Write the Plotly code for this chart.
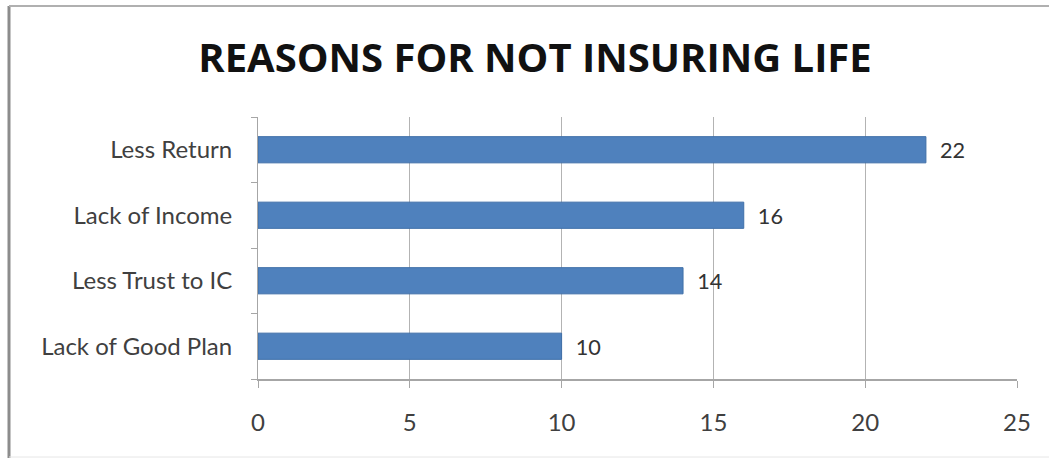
import plotly.graph_objects as go

categories = ["Lack of Good Plan", "Less Trust to IC", "Lack of Income", "Less Return"]
values = [10, 14, 16, 22]
x_ticks = [0, 5, 10, 15, 20, 25]

W, H = 1049, 461
L, R, T, B = 258, 32, 117, 82
pw, ph = W - L - R, H - T - B

def px(x):
    return (x - L) / pw

def py(y):
    return (H - B - y) / ph

font = "Lato, Open Sans, sans-serif"

fig = go.Figure(go.Bar(
    y=categories, x=values, orientation="h",
    marker=dict(color="#4F81BD", line=dict(color="#3f6fa8", width=1)),
    width=0.4,
    texttemplate="  %{x}", textposition="outside",
    textfont=dict(family=font, size=24, color="#333333"),
    cliponaxis=False,
))

fig.update_layout(
    width=W, height=H,
    margin=dict(l=L, r=R, t=T, b=B),
    paper_bgcolor="white", plot_bgcolor="white",
    showlegend=False,
    title=dict(text="<b>REASONS FOR NOT INSURING LIFE</b>", xref="container", yref="container",
               x=535 / W, y=1 - 58 / H, xanchor="center", yanchor="middle",
               font=dict(family="Open Sans, sans-serif", size=40, color="#111111")),
    xaxis=dict(range=[0, 25], tickvals=x_ticks, showgrid=True, gridcolor="#b3b3b3", gridwidth=1,
               showline=True, linecolor="#a6a6a6", linewidth=2, ticks="outside", ticklen=7,
               tickcolor="#a6a6a6", zeroline=False,
               tickfont=dict(family=font, size=24, color="#404040"), ticklabelstandoff=14),
    yaxis=dict(showline=True, linecolor="#a6a6a6", linewidth=1, ticks="outside", ticklen=6,
               tickcolor="#a6a6a6", tickson="boundaries", showgrid=False,
               tickfont=dict(family=font, size=24, color="#404040"), ticklabelstandoff=20),
    bargap=0.6,
)

# outer chart frame
fig.add_shape(type="line", xref="paper", yref="paper", x0=px(9), x1=px(9), y0=py(6), y1=py(458),
              line=dict(color="#8c8c8c", width=3))
fig.add_shape(type="line", xref="paper", yref="paper", x0=px(9), x1=px(1049), y0=py(6), y1=py(6),
              line=dict(color="#b0b0b0", width=2))
fig.add_shape(type="line", xref="paper", yref="paper", x0=px(9), x1=px(1049), y0=py(457), y1=py(457),
              line=dict(color="#e6e6e6", width=1))

fig.write_html("out.html")
